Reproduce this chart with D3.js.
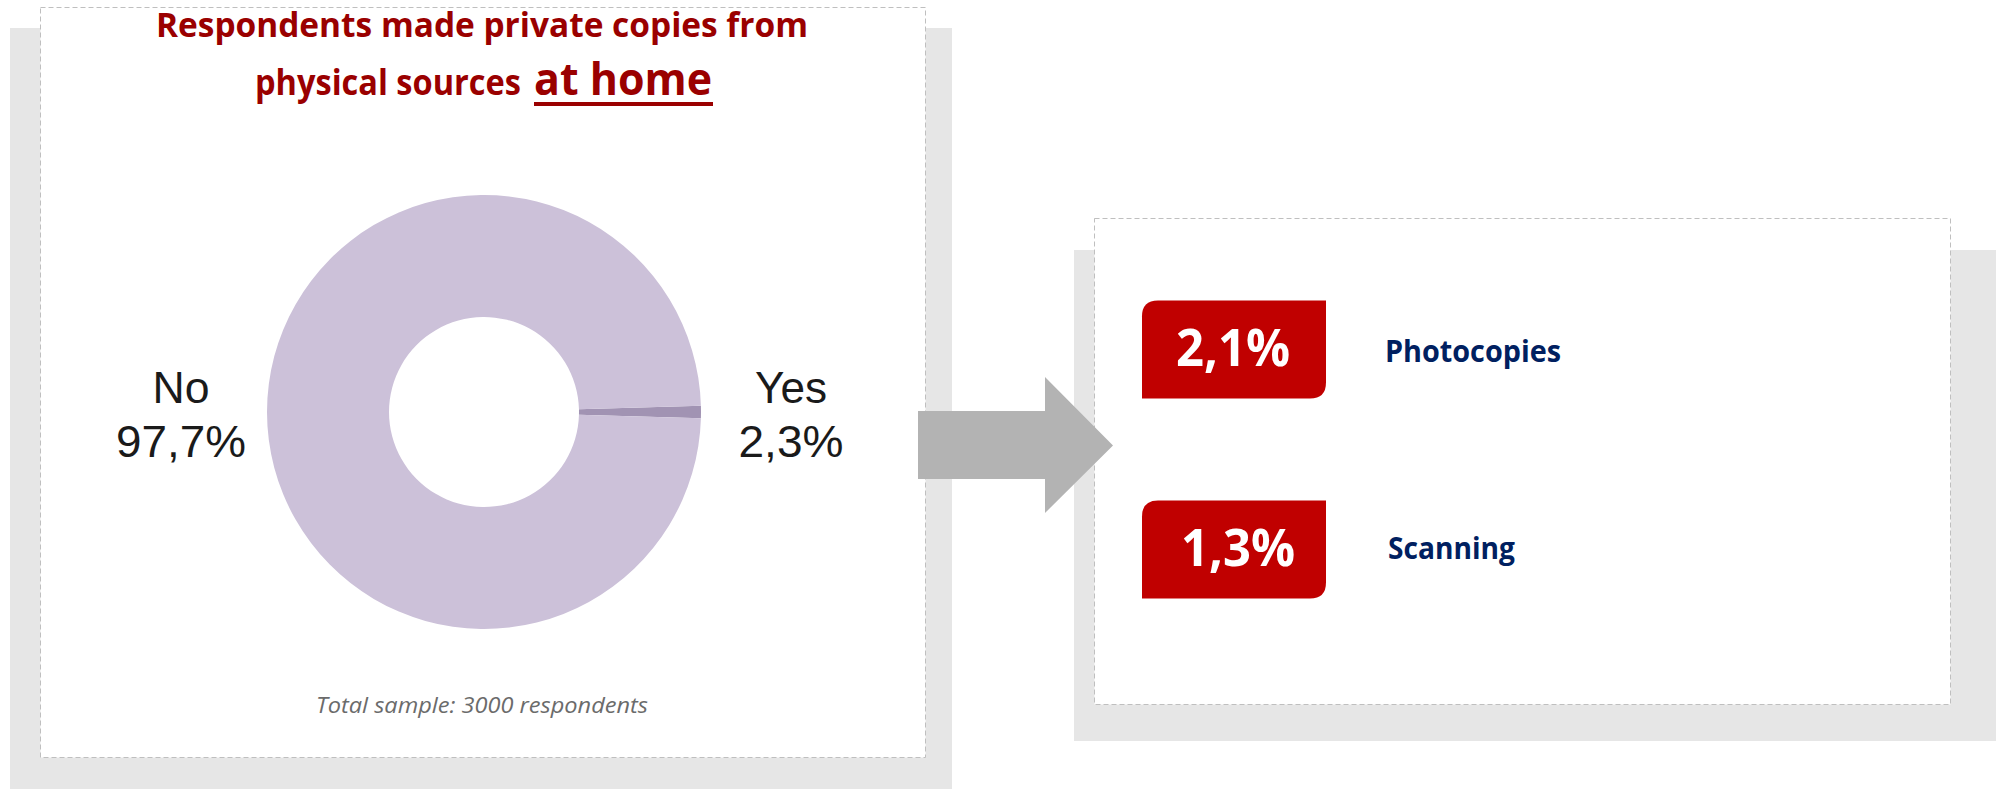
<!DOCTYPE html>
<html>
<head>
<meta charset="utf-8">
<script src="https://cdn.jsdelivr.net/npm/d3@7"></script>
<style>
  html, body { margin: 0; padding: 0; background: #ffffff; }
  svg { display: block; }
</style>
</head>
<body>
<div id="chart"></div>
<script>
// ---------- data ----------
const categories = ["No", "Yes"];
const labelValues = [97.7, 2.3];          // printed shares (%)
const sliceShares = [99.1, 0.9];          // slice sizes as drawn in the reference
const sliceColors = ["#CCC1D9", "#A193B3"];

const breakdownLabels = ["Photocopies", "Scanning"];
const breakdownValues = [2.1, 1.3];

const titleLine1 = "Respondents made private copies from";
const titleLine2a = "physical sources";
const titleLine2b = "at home";
const footnote = "Total sample: 3000 respondents";

// ---------- setup ----------
const W = 1996, H = 790;
const svg = d3.select("#chart").append("svg").attr("width", W).attr("height", H);
const locale = d3.formatLocale({decimal: ",", thousands: ".", grouping: [3], currency: ["", "€"]});
const fmt = v => locale.format(".1f")(v) + "%";

const GRAY = "#E6E6E6", DASH = "#BFBFBF";

// ---------- panels ----------
function panel(shadow, box) {
  svg.append("rect").attr("x", shadow[0]).attr("y", shadow[1])
    .attr("width", shadow[2] - shadow[0]).attr("height", shadow[3] - shadow[1]).attr("fill", GRAY);
  svg.append("rect").attr("x", box[0] + 0.5).attr("y", box[1] + 0.5)
    .attr("width", box[2] - box[0]).attr("height", box[3] - box[1])
    .attr("fill", "#ffffff").attr("stroke", DASH).attr("stroke-width", 1)
    .attr("stroke-dasharray", "5,3");
}
panel([10, 28, 952, 789], [40, 7, 925, 757]);
panel([1074, 250, 1996, 741], [1094, 218, 1950, 704]);

// ---------- title ----------
const TITLE = "#9A0000";
svg.append("text").attr("x", 156).attr("y", 37)
  .attr("textLength", 652).attr("lengthAdjust", "spacingAndGlyphs")
  .style("font-family", "'Open Sans', sans-serif").style("font-weight", 700)
  .style("font-size", "34px").attr("fill", TITLE).text(titleLine1);
svg.append("text").attr("x", 255).attr("y", 95)
  .attr("textLength", 266).attr("lengthAdjust", "spacingAndGlyphs")
  .style("font-family", "'Open Sans', sans-serif").style("font-weight", 700)
  .style("font-size", "35px").attr("fill", TITLE).text(titleLine2a);
svg.append("text").attr("x", 534).attr("y", 95)
  .attr("textLength", 178).attr("lengthAdjust", "spacingAndGlyphs")
  .style("font-family", "'Open Sans', sans-serif").style("font-weight", 700)
  .style("font-size", "45px").attr("fill", TITLE).text(titleLine2b);
svg.append("rect").attr("x", 534).attr("y", 102).attr("width", 179).attr("height", 4).attr("fill", TITLE);

// ---------- donut ----------
const cx = 484, cy = 412, R = 217, r0 = 95;
const yesIdx = categories.indexOf("Yes");
const total = d3.sum(sliceShares);
const yesAngle = sliceShares[yesIdx] / total * 2 * Math.PI;
const start = Math.PI / 2 - yesAngle / 2;
const order = [yesIdx, 1 - yesIdx];
const pie = d3.pie().sort(null).value(i => sliceShares[i])
  .startAngle(start).endAngle(start + 2 * Math.PI);
const arc = d3.arc().innerRadius(r0).outerRadius(R);
const g = svg.append("g").attr("transform", `translate(${cx},${cy})`);
g.selectAll("path").data(pie(order)).join("path")
  .attr("d", arc).attr("fill", d => sliceColors[d.data]);

// labels
const labelX = d3.scaleOrdinal().domain(categories).range([181, 791]);
const labelW = {"No": 57, "Yes": 72};
const numW = {"No": 130, "Yes": 105};
categories.forEach((c, i) => {
  const x = labelX(c);
  svg.append("text").attr("x", x).attr("y", 403).attr("text-anchor", "middle")
    .attr("textLength", labelW[c]).attr("lengthAdjust", "spacingAndGlyphs")
    .style("font-family", "'Liberation Sans', Arial, sans-serif").style("font-size", "45px")
    .attr("fill", "#1A1A1A").text(c);
  svg.append("text").attr("x", x).attr("y", 457).attr("text-anchor", "middle")
    .attr("textLength", numW[c]).attr("lengthAdjust", "spacingAndGlyphs")
    .style("font-family", "'Liberation Sans', Arial, sans-serif").style("font-size", "45px")
    .attr("fill", "#1A1A1A").text(fmt(labelValues[i]));
});

// footnote
svg.append("text").attr("x", 482).attr("y", 713).attr("text-anchor", "middle")
  .attr("textLength", 332).attr("lengthAdjust", "spacingAndGlyphs")
  .style("font-family", "'Open Sans', sans-serif").style("font-style", "italic")
  .style("font-size", "21px").attr("fill", "#6B6B6B").text(footnote);

// ---------- arrow ----------
svg.append("path")
  .attr("d", "M918,411 L1045,411 L1045,377 L1113,445.5 L1045,513 L1045,479 L918,479 Z")
  .attr("fill", "#B3B3B3");

// ---------- breakdown badges ----------
const y = d3.scalePoint().domain(breakdownLabels).range([349.5, 549.5]);
const bx0 = 1142, bx1 = 1326, bh = 98, rr = 16;
function badgePath(yc) {
  const t = yc - bh / 2, b = yc + bh / 2;
  return `M${bx0},${t + rr} Q${bx0},${t} ${bx0 + rr},${t} L${bx1},${t} L${bx1},${b - rr} Q${bx1},${b} ${bx1 - rr},${b} L${bx0},${b} Z`;
}
const rows = svg.append("g").selectAll("g").data(breakdownLabels).join("g");
rows.append("path").attr("d", d => badgePath(y(d))).attr("fill", "#C00000");
rows.append("text")
  .attr("x", (d, i) => i === 0 ? 1233 : 1238)
  .attr("y", d => y(d) + 16).attr("text-anchor", "middle")
  .attr("textLength", 114).attr("lengthAdjust", "spacingAndGlyphs")
  .style("font-family", "'Open Sans', sans-serif").style("font-weight", 700)
  .style("font-size", "52px").attr("fill", "#ffffff")
  .text((d, i) => fmt(breakdownValues[i]));
const lblW = [176, 127];
const lblX = [1385, 1388];
const lblDY = [12.5, 9.5];
rows.append("text")
  .attr("x", (d, i) => lblX[i]).attr("y", (d, i) => y(d) + lblDY[i])
  .attr("textLength", (d, i) => lblW[i]).attr("lengthAdjust", "spacingAndGlyphs")
  .style("font-family", "'Open Sans', sans-serif").style("font-weight", 700)
  .style("font-size", "31px").attr("fill", "#002060").text(d => d);
</script>
</body>
</html>
